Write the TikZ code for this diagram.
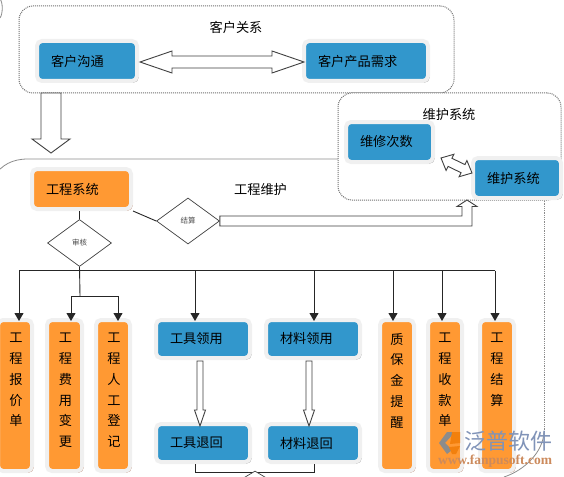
\documentclass[tikz,border=0pt]{standalone}
\usepackage{fontspec}
\setmainfont{Noto Sans CJK SC}
\newfontfamily\wmfont{Liberation Serif}
\usetikzlibrary{calc,shapes.geometric,shadows,arrows.meta}
\definecolor{bluebox}{HTML}{3297CC}
\definecolor{orangebox}{HTML}{FF9933}
\definecolor{halo}{HTML}{F0F0F0}
\definecolor{wmblue}{HTML}{8093B8}
\definecolor{wmtan}{HTML}{CC8A5C}
\tikzset{
 x=1pt,y=-1pt,
 group/.style={draw=black!55,densely dotted,line width=1pt,rounded corners=14pt,fill=white},
 card/.style={draw=halo,line width=4pt,rounded corners=5pt,inner ysep=0pt,inner xsep=12pt,align=left,
   font=\fontsize{13.2}{15}\selectfont,text=black,
   drop shadow={shadow xshift=1.6pt,shadow yshift=-1.6pt,fill=black!45,opacity=1}},
 bluecard/.style={card,fill=bluebox},
 orangecard/.style={card,fill=orangebox,inner xsep=0pt,
   drop shadow={shadow xshift=1.6pt,shadow yshift=-1.6pt,fill=brown!50!pink,opacity=1}},
 title/.style={font=\fontsize{13.2}{15}\selectfont,text=black,inner sep=0pt},
 gate/.style={shape=diamond,draw=black!75,line width=0.7pt,fill=white,inner sep=0pt,font=\fontsize{7.5}{9}\selectfont,text=black!70},
 wire/.style={draw=black!85,line width=0.9pt},
 flow/.style={wire,-{Triangle[length=8pt,width=9pt]}},
 block/.style={draw=black!75,line width=0.9pt,fill=white,line join=miter},
 frame/.style={draw=black!45,line width=0.8pt},
}
% single block arrow: from, to, half shaft, half head, head length
\newcommand{\blockarrow}[5]{%
 \coordinate (ba) at ($(#2)!#5!(#1)$);
 \draw[block] ($(#1)!#3!90:(#2)$) -- ($(ba)!#3!90:(#2)$) -- ($(ba)!#4!90:(#2)$) -- (#2)
   -- ($(ba)!#4!-90:(#2)$) -- ($(ba)!#3!-90:(#2)$) -- ($(#1)!#3!-90:(#2)$) -- cycle;}
% double block arrow: tip, tip, half shaft, half head, head length
\newcommand{\dblarrow}[5]{%
 \coordinate (bb) at ($(#2)!#5!(#1)$);
 \coordinate (bc) at ($(#1)!#5!(#2)$);
 \draw[block] (#1) -- ($(bc)!#4!90:(#2)$) -- ($(bc)!#3!90:(#2)$) -- ($(bb)!#3!90:(#2)$) -- ($(bb)!#4!90:(#2)$) -- (#2)
   -- ($(bb)!#4!-90:(#2)$) -- ($(bb)!#3!-90:(#2)$) -- ($(bc)!#3!-90:(#2)$) -- ($(bc)!#4!-90:(#2)$) -- cycle;}
\newcommand{\vtext}[2]{\parbox[c][#1pt][t]{24pt}{\centering\fontsize{13.2}{20.8}\selectfont\vspace{11pt}#2}}
\begin{document}
\begin{tikzpicture}
\useasboundingbox (0,0) rectangle (564,476);
\clip (0,0) rectangle (564,476);
\fill[white] (0,0) rectangle (564,476);
% outer frame fragments
\draw[frame] (0,-1) .. controls (3,2) and (3,14) .. (0,18);
\draw[frame] (-6,176) .. controls (2,165) and (12,159) .. (28,159) -- (345,159);
\draw[frame,densely dotted,line width=1pt] (544,190) -- (544,432);
\draw[frame] (544,432) .. controls (543,452) and (525,470) .. (504,477);
% groups
\node[group,minimum width=435pt,minimum height=87pt] (relgroup) at (236.5,49.5) {};
\node[group,minimum width=223pt,minimum height=107pt] (maintgroup) at (449.5,146.5) {};
\node[title] (reltitle) at (236,27) {客户关系};
\node[title] (mainttitle) at (449,114) {维护系统};
\node[title] (projtitle) at (260.5,190) {工程维护};
% blue cards
\node[bluecard,minimum width=100pt,minimum height=40pt,text width=72pt] (talk) at (87,61) {客户沟通};
\node[bluecard,minimum width=124pt,minimum height=40pt,text width=96pt] (need) at (366,61) {客户产品需求};
\node[bluecard,minimum width=87pt,minimum height=40pt,text width=59pt] (repair) at (389.5,142) {维修次数};
\node[bluecard,minimum width=88pt,minimum height=40pt,text width=60pt] (maint) at (517,178) {维护系统};
\node[orangecard,inner xsep=12pt,minimum width=99pt,minimum height=40pt,text width=71pt] (proj) at (81.5,189) {工程系统};
\node[bluecard,minimum width=94pt,minimum height=38pt,text width=66pt] (toolout) at (203,339) {工具领用};
\node[bluecard,minimum width=94pt,minimum height=38pt,text width=66pt] (matout) at (313,339) {材料领用};
\node[bluecard,minimum width=94pt,minimum height=38pt,text width=66pt] (toolback) at (203,443) {工具退回};
\node[bluecard,minimum width=94pt,minimum height=38pt,text width=66pt] (matback) at (313,443) {材料退回};
% orange columns
\node[orangecard,minimum width=34pt,minimum height=151pt,inner sep=0pt] (quote) at (15,395.5) {\hspace{2pt}\vtext{147}{工\\程\\报\\价\\单}};
\node[orangecard,minimum width=35pt,minimum height=151pt,inner sep=0pt] (costchg) at (64.5,395.5) {\hspace{2pt}\vtext{147}{工\\程\\费\\用\\变\\更}};
\node[orangecard,minimum width=34pt,minimum height=151pt,inner sep=0pt] (labor) at (113,395.5) {\hspace{2pt}\vtext{147}{工\\程\\人\\工\\登\\记}};
\node[orangecard,minimum width=34pt,minimum height=151pt,inner sep=0pt] (deposit) at (397,395.5) {\vtext{147}{质\\保\\金\\提\\醒}};
\node[orangecard,minimum width=34pt,minimum height=151pt,inner sep=0pt] (receipt) at (445,395.5) {\vtext{147}{工\\程\\收\\款\\单}};
\node[orangecard,minimum width=34pt,minimum height=151pt,inner sep=0pt] (settle) at (497,395.5) {\vtext{147}{工\\程\\结\\算}};
% gates
\node[gate,minimum width=64pt,minimum height=47pt] (audit) at (79.5,243) {审核};
\node[gate,minimum width=63pt,minimum height=46pt] (close) at (188,221) {结算};
% block arrows
\coordinate (talktip) at (140,62);
\coordinate (needtip) at (304,62);
\dblarrow{talktip}{needtip}{6pt}{11pt}{32pt}
\coordinate (downfrom) at (51,93);
\coordinate (downto) at (51,153);
\blockarrow{downfrom}{downto}{10pt}{19pt}{14pt}
\coordinate (rtip) at (441,158);
\coordinate (mtip) at (472,173);
\dblarrow{rtip}{mtip}{4.5pt}{9pt}{10pt}
\coordinate (ta) at (200,361);
\coordinate (tb) at (200,426);
\blockarrow{ta}{tb}{3pt}{5.5pt}{16pt}
\coordinate (ma) at (309,361);
\coordinate (mb) at (309,426);
\blockarrow{ma}{mb}{3pt}{5.5pt}{16pt}
\draw[block] (close.east |- 0,216) -- (462,216) -- (462,206.5) -- (457,206.5) -- (467,200) -- (477,206.5) -- (472,206.5) -- (472,226) -- (close.east |- 0,226) -- cycle;
% wires
\draw[wire] (proj.south -| audit.north) -- (audit.north);
\draw[wire] (proj.south east) -- (close.west);
\coordinate (busl) at (19,270.5);
\coordinate (busr) at (495,270.5);
\draw[wire] (busl) -- (busr);
\draw[wire] (audit.south) -- (80,296);
\draw[wire] (71,296) -- (118,296);
\draw[flow] (busl) -- (19,321);
\draw[flow] (71,296) -- (71,321);
\draw[flow] (118,296) -- (118,321);
\draw[flow] (195,270.5) -- (195,321);
\draw[flow] (314,270.5) -- (314,321);
\draw[flow] (393,270.5) -- (393,321);
\draw[flow] (442,270.5) -- (442,321);
\draw[flow] (busr) -- (495,321);
\draw[wire] (toolback.south -| 195,0) -- (195,472) -- (314,472) -- (matback.south -| 314,0);
\node[gate,minimum width=40pt,minimum height=24pt] (lastgate) at (255,483) {};
% watermark
\fill[black!45] (447,432) -- (439,443) -- (447,454) -- (452,450) -- (445,443) -- (455,432) -- cycle;
\fill[orange!80!brown] (452,432) -- (460,432) -- (460,443) -- (450,444) -- cycle;
\fill[orange!80!brown] (449,447) -- (460,446) -- (456,454) -- (452,454) -- cycle;
\node[inner sep=0pt,text=wmblue,font=\fontsize{22}{22}\selectfont,text height=17pt,text depth=1pt] (wmcn) at (508,441) {泛普软件};
\node[inner sep=0pt,text=wmtan,font=\wmfont\bfseries\fontsize{13.5}{14}\selectfont] (wmen) at (495,461.5) {www.fanpusoft.com};
\end{tikzpicture}
\end{document}
